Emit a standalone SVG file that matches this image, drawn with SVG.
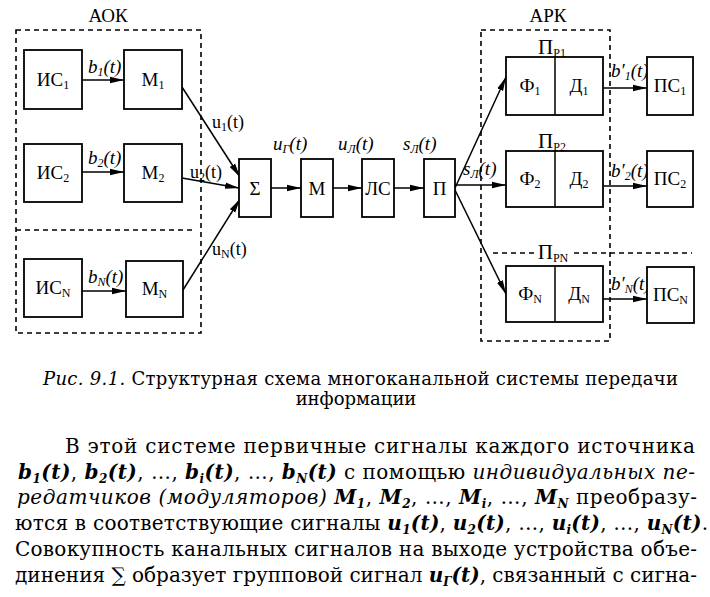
<svg xmlns="http://www.w3.org/2000/svg" width="710" height="597" viewBox="0 0 710 597">
<style>
.box{fill:#fff;stroke:#000;stroke-width:1.8}
.dash{fill:none;stroke:#000;stroke-width:1.6;stroke-dasharray:5,4}
.ln{fill:none;stroke:#000;stroke-width:1.5}
.lbl{font-family:"Liberation Serif","DejaVu Serif",serif;font-size:19px;text-anchor:middle;fill:#000}
.sub{font-size:12px}
.it{font-family:"Liberation Serif","DejaVu Serif",serif;font-size:19px;font-style:italic;fill:#000}
.rm{font-family:"Liberation Serif","DejaVu Serif",serif;font-size:18px;fill:#000}
.cap{font-family:"DejaVu Serif","Liberation Serif",serif;font-size:18px;fill:#000}
.body{font-family:"DejaVu Serif","Liberation Serif",serif;font-size:20px;fill:#000}
.bi{font-weight:bold;font-style:italic}
.i{font-style:italic}
</style>
<defs>
<marker id="ah" markerUnits="userSpaceOnUse" markerWidth="14" markerHeight="8" refX="14" refY="4" orient="auto">
<path d="M0,0.8 L14,4 L0,7.2 z" fill="#000"/>
</marker>
</defs>

<g id="frames">
<rect class="dash" x="16" y="30" width="185" height="303"/>
<line class="dash" x1="16" y1="230" x2="192" y2="230"/>
<rect class="dash" x="481" y="30" width="129" height="311"/>
<line class="dash" x1="493" y1="253" x2="692" y2="253"/>
<text class="lbl" x="108" y="22">АОК</text>
<text class="lbl" x="548" y="22">АРК</text>
</g>

<g id="connectors">
<line class="ln" x1="82" y1="80" x2="124" y2="80" marker-end="url(#ah)"/>
<line class="ln" x1="82" y1="172" x2="124" y2="172" marker-end="url(#ah)"/>
<line class="ln" x1="82" y1="291" x2="126" y2="291" marker-end="url(#ah)"/>
<line class="ln" x1="182" y1="87" x2="240" y2="177" marker-end="url(#ah)"/>
<line class="ln" x1="182" y1="178" x2="239" y2="188" marker-end="url(#ah)"/>
<line class="ln" x1="183" y1="290" x2="240" y2="199" marker-end="url(#ah)"/>
<line class="ln" x1="271" y1="188" x2="301" y2="188" marker-end="url(#ah)"/>
<line class="ln" x1="333" y1="188" x2="362" y2="188" marker-end="url(#ah)"/>
<line class="ln" x1="394" y1="188" x2="424" y2="188" marker-end="url(#ah)"/>
<line class="ln" x1="455" y1="188" x2="506" y2="77" marker-end="url(#ah)"/>
<line class="ln" x1="455" y1="185" x2="506" y2="185" marker-end="url(#ah)"/>
<line class="ln" x1="455" y1="190" x2="506" y2="294" marker-end="url(#ah)"/>
<line class="ln" x1="603" y1="88" x2="647" y2="88" marker-end="url(#ah)"/>
<line class="ln" x1="603" y1="186" x2="647" y2="186" marker-end="url(#ah)"/>
<line class="ln" x1="603" y1="299" x2="647" y2="299" marker-end="url(#ah)"/>
<text class="it" x="88" y="73">b<tspan class="sub" dy="3">1</tspan><tspan dy="-3">(t)</tspan></text>
<text class="it" x="88" y="164">b<tspan class="sub" dy="3">2</tspan><tspan dy="-3">(t)</tspan></text>
<text class="it" x="88" y="283">b<tspan class="sub" dy="3">N</tspan><tspan dy="-3">(t)</tspan></text>
<text class="rm" x="212" y="128">u<tspan class="sub" dy="3">1</tspan><tspan dy="-3">(t)</tspan></text>
<text class="rm" x="190" y="178">u<tspan class="sub" dy="3">2</tspan><tspan dy="-3">(t)</tspan></text>
<text class="rm" x="212" y="255">u<tspan class="sub" dy="3">N</tspan><tspan dy="-3">(t)</tspan></text>
<text class="it" x="273" y="150">u<tspan class="sub" dy="3">Г</tspan><tspan dy="-3">(t)</tspan></text>
<text class="it" x="338" y="150">u<tspan class="sub" dy="3">Л</tspan><tspan dy="-3">(t)</tspan></text>
<text class="it" x="403" y="150">s<tspan class="sub" dy="3">Л</tspan><tspan dy="-3">(t)</tspan></text>
<text class="it" x="463" y="175">s<tspan class="sub" dy="3">Л</tspan><tspan dy="-3">(t)</tspan></text>
<text class="it" x="611" y="77">b′<tspan class="sub" dy="3">1</tspan><tspan dy="-3">(t)</tspan></text>
<text class="it" x="611" y="177">b′<tspan class="sub" dy="3">2</tspan><tspan dy="-3">(t)</tspan></text>
<text class="it" x="611" y="290">b′<tspan class="sub" dy="3">N</tspan><tspan dy="-3">(t)</tspan></text>
</g>

<g id="IS1"><rect class="box" x="24" y="50" width="58" height="59"/><text class="lbl" x="53" y="86">ИС<tspan class="sub" dy="3">1</tspan></text></g>
<g id="M1"><rect class="box" x="124" y="50" width="58" height="59"/><text class="lbl" x="153" y="86">M<tspan class="sub" dy="3">1</tspan></text></g>
<g id="IS2"><rect class="box" x="24" y="144" width="58" height="58"/><text class="lbl" x="53" y="179">ИС<tspan class="sub" dy="3">2</tspan></text></g>
<g id="M2"><rect class="box" x="124" y="144" width="58" height="58"/><text class="lbl" x="153" y="179">M<tspan class="sub" dy="3">2</tspan></text></g>
<g id="ISN"><rect class="box" x="24" y="259" width="58" height="58"/><text class="lbl" x="53" y="294">ИС<tspan class="sub" dy="3">N</tspan></text></g>
<g id="MN"><rect class="box" x="126" y="261" width="57" height="56"/><text class="lbl" x="154.5" y="295">M<tspan class="sub" dy="3">N</tspan></text></g>
<g id="Sum"><rect class="box" x="239" y="159" width="32" height="58"/><text class="lbl" x="255" y="195">Σ</text></g>
<g id="M"><rect class="box" x="301" y="159" width="32" height="58"/><text class="lbl" x="317" y="195">М</text></g>
<g id="LS"><rect class="box" x="362" y="159" width="32" height="58"/><text class="lbl" x="378" y="195">ЛС</text></g>
<g id="P"><rect class="box" x="424" y="159" width="31" height="58"/><text class="lbl" x="439.5" y="195">П</text></g>
<g id="PR1"><text class="lbl" x="552" y="54"><tspan font-size="21">П</tspan><tspan class="sub" dy="3">Р1</tspan></text><rect class="box" x="506" y="57" width="97" height="58"/><line class="ln" x1="555" y1="57" x2="555" y2="115"/><text class="lbl" x="530" y="92">Ф<tspan class="sub" dy="3">1</tspan></text><text class="lbl" x="579" y="92">Д<tspan class="sub" dy="3">1</tspan></text></g>
<g id="PR2"><text class="lbl" x="552" y="148"><tspan font-size="21">П</tspan><tspan class="sub" dy="3">Р2</tspan></text><rect class="box" x="506" y="151" width="97" height="56"/><line class="ln" x1="555" y1="151" x2="555" y2="207"/><text class="lbl" x="530" y="185">Ф<tspan class="sub" dy="3">2</tspan></text><text class="lbl" x="579" y="185">Д<tspan class="sub" dy="3">2</tspan></text></g>
<g id="PRN"><rect x="534" y="243" width="40" height="18" fill="#fff"/><text class="lbl" x="553" y="259"><tspan font-size="21">П</tspan><tspan class="sub" dy="3">РN</tspan></text><rect class="box" x="506" y="266" width="97" height="56"/><line class="ln" x1="555" y1="266" x2="555" y2="322"/><text class="lbl" x="530" y="300">Ф<tspan class="sub" dy="3">N</tspan></text><text class="lbl" x="579" y="300">Д<tspan class="sub" dy="3">N</tspan></text></g>
<g id="PS1"><rect class="box" x="647" y="57" width="46" height="58"/><text class="lbl" x="670" y="92">ПС<tspan class="sub" dy="3">1</tspan></text></g>
<g id="PS2"><rect class="box" x="647" y="151" width="46" height="56"/><text class="lbl" x="670" y="185">ПС<tspan class="sub" dy="3">2</tspan></text></g>
<g id="PSN"><rect class="box" x="647" y="267" width="47" height="56"/><text class="lbl" x="670.5" y="301">ПС<tspan class="sub" dy="3">N</tspan></text></g>

<g id="caption">
<text class="cap" x="43" y="385" textLength="635" lengthAdjust="spacing"><tspan class="i">Рис. 9.1.</tspan> Структурная схема многоканальной системы передачи</text>
<text class="cap" x="356" y="405" text-anchor="middle">информации</text>
</g>

<g id="body">
<text class="body" x="65" y="453" textLength="630" lengthAdjust="spacing">В этой системе первичные сигналы каждого источника</text>
<text class="body" x="18" y="479" textLength="677" lengthAdjust="spacing"><tspan class="bi">b</tspan><tspan class="bi" font-size="12" dy="4">1</tspan><tspan class="bi" dy="-4">(t)</tspan>, <tspan class="bi">b</tspan><tspan class="bi" font-size="12" dy="4">2</tspan><tspan class="bi" dy="-4">(t)</tspan>, …, <tspan class="bi">b</tspan><tspan class="bi" font-size="12" dy="4">i</tspan><tspan class="bi" dy="-4">(t)</tspan>, …, <tspan class="bi">b</tspan><tspan class="bi" font-size="12" dy="4">N</tspan><tspan class="bi" dy="-4">(t)</tspan> с помощью <tspan class="i">индивидуальных пе-</tspan></text>
<text class="body" x="17" y="504" textLength="680" lengthAdjust="spacing"><tspan class="i">редатчиков (модуляторов)</tspan> <tspan class="bi">M</tspan><tspan class="bi" font-size="12" dy="4">1</tspan><tspan dy="-4">, </tspan><tspan class="bi">M</tspan><tspan class="bi" font-size="12" dy="4">2</tspan><tspan dy="-4">, …, </tspan><tspan class="bi">M</tspan><tspan class="bi" font-size="12" dy="4">i</tspan><tspan dy="-4">, …, </tspan><tspan class="bi">M</tspan><tspan class="bi" font-size="12" dy="4">N</tspan><tspan dy="-4"> преобразу-</tspan></text>
<text class="body" x="15" y="530" textLength="693" lengthAdjust="spacing">ются в соответствующие сигналы <tspan class="bi">u</tspan><tspan class="bi" font-size="12" dy="4">1</tspan><tspan class="bi" dy="-4">(t)</tspan>, <tspan class="bi">u</tspan><tspan class="bi" font-size="12" dy="4">2</tspan><tspan class="bi" dy="-4">(t)</tspan>, …, <tspan class="bi">u</tspan><tspan class="bi" font-size="12" dy="4">i</tspan><tspan class="bi" dy="-4">(t)</tspan>, …, <tspan class="bi">u</tspan><tspan class="bi" font-size="12" dy="4">N</tspan><tspan class="bi" dy="-4">(t)</tspan>.</text>
<text class="body" x="15" y="556" textLength="682" lengthAdjust="spacing">Совокупность канальных сигналов на выходе устройства объе-</text>
<text class="body" x="15" y="582" textLength="682" lengthAdjust="spacing">динения ∑ образует групповой сигнал <tspan class="bi">u</tspan><tspan class="bi" font-size="12" dy="4">Г</tspan><tspan class="bi" dy="-4">(t)</tspan>, связанный с сигна-</text>
</g>
</svg>
